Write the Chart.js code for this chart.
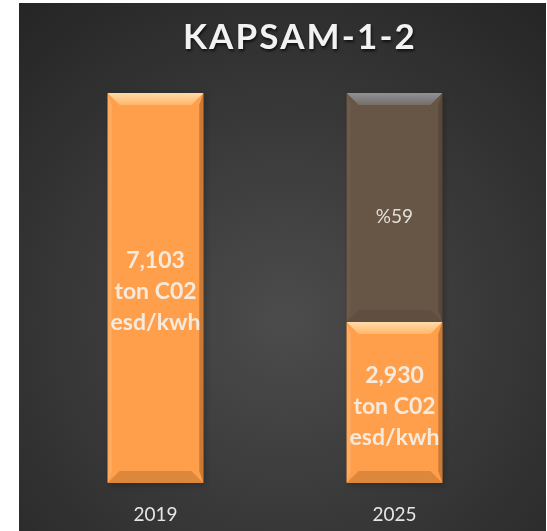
<!DOCTYPE html>
<html>
<head>
<meta charset="utf-8">
<script src="https://cdn.jsdelivr.net/npm/chart.js@4/dist/chart.umd.min.js"></script>
<style>
  html, body { margin: 0; padding: 0; background: #fff; }
  #contenedor { width: 547px; height: 531px; }
</style>
</head>
<body>
<div id="contenedor"><canvas id="grafica"></canvas></div>
<script>
// datos de la grafica
var titulo = 'KAPSAM-1-2';
var anios = ['2019', '2025'];
var emisiones = [7103, 2930];
var reduccion = [0, 4173];
var etiquetaReduccion = ['', '%59'];
var unidad = ['ton C02', 'esd/kwh'];

// fondo oscuro con degradado y titulo
var fondo = {
  id: 'fondo',
  beforeDraw: function(chart) {
    var ctx = chart.ctx;
    ctx.save();
    ctx.fillStyle = '#ffffff';
    ctx.fillRect(0, 0, chart.width, chart.height);
    var g = ctx.createRadialGradient(285, 320, 10, 285, 320, 400);
    g.addColorStop(0, '#4b4b4b');
    g.addColorStop(1, '#262626');
    ctx.fillStyle = g;
    ctx.fillRect(19, 3, 527, 528);

    ctx.font = 'bold 35px Lato';
    var w = ctx.measureText(titulo).width;
    ctx.letterSpacing = Math.max(0, (234 - w) / titulo.length) + 'px';
    ctx.textAlign = 'center';
    ctx.textBaseline = 'alphabetic';
    ctx.shadowColor = 'rgba(0,0,0,0.7)';
    ctx.shadowOffsetX = 1;
    ctx.shadowOffsetY = 2;
    ctx.shadowBlur = 3;
    ctx.fillStyle = '#f2f2f2';
    ctx.fillText(titulo, 300, 49);
    ctx.restore();
  },
  beforeDatasetsDraw: function(chart) {
    // sombra de las barras
    var ctx = chart.ctx;
    ctx.save();
    chart.data.datasets.forEach(function(ds, i) {
      chart.getDatasetMeta(i).data.forEach(function(bar, j) {
        if (!ds.data[j]) return;
        ctx.shadowColor = 'rgba(0,0,0,0.6)';
        ctx.shadowBlur = 6;
        ctx.shadowOffsetX = 2;
        ctx.shadowOffsetY = 2;
        ctx.fillStyle = 'rgba(0,0,0,0.4)';
        ctx.fillRect(bar.x - bar.width / 2, bar.y, bar.width, bar.base - bar.y);
      });
    });
    ctx.restore();
  }
};

// biselado de las barras y etiquetas
var bisel = {
  id: 'bisel',
  afterDatasetsDraw: function(chart) {
    var ctx = chart.ctx;
    ctx.save();
    chart.data.datasets.forEach(function(ds, i) {
      chart.getDatasetMeta(i).data.forEach(function(bar, j) {
        if (!ds.data[j]) return;
        var l = bar.x - bar.width / 2, r = bar.x + bar.width / 2;
        var t = bar.y, b = bar.base;
        var colores = ds.bisel;
        var d = 12, s = 4;
        var gt = ctx.createLinearGradient(0, t, 0, t + d);
        gt.addColorStop(0, colores[0]);
        gt.addColorStop(1, colores[1]);
        ctx.fillStyle = gt;
        ctx.beginPath();
        ctx.moveTo(l, t); ctx.lineTo(r, t); ctx.lineTo(r - d, t + d); ctx.lineTo(l + d, t + d);
        ctx.closePath(); ctx.fill();
        ctx.fillStyle = colores[2];
        ctx.beginPath();
        ctx.moveTo(l, b); ctx.lineTo(r, b); ctx.lineTo(r - d, b - d); ctx.lineTo(l + d, b - d);
        ctx.closePath(); ctx.fill();
        ctx.fillStyle = colores[3];
        ctx.beginPath();
        ctx.moveTo(r, t); ctx.lineTo(r, b); ctx.lineTo(r - s, b - d); ctx.lineTo(r - s, t + d);
        ctx.closePath(); ctx.fill();
        ctx.fillStyle = colores[4];
        ctx.beginPath();
        ctx.moveTo(l, t); ctx.lineTo(l, b); ctx.lineTo(l + s, b - d); ctx.lineTo(l + s, t + d);
        ctx.closePath(); ctx.fill();
      });
    });

    ctx.textAlign = 'center';
    ctx.textBaseline = 'middle';
    chart.getDatasetMeta(0).data.forEach(function(bar, j) {
      var lineas = [emisiones[j].toLocaleString('en-US')].concat(unidad);
      var cy = (bar.y + bar.base) / 2 + 4;
      ctx.font = 'bold 23px Lato';
      ctx.fillStyle = 'rgba(245,240,232,0.92)';
      lineas.forEach(function(txt, k) {
        ctx.fillText(txt, bar.x, cy + (k - 1) * 31);
      });
    });
    chart.getDatasetMeta(1).data.forEach(function(bar, j) {
      if (!etiquetaReduccion[j]) return;
      ctx.font = '19px Lato';
      ctx.fillStyle = 'rgba(240,236,230,0.9)';
      ctx.fillText(etiquetaReduccion[j], bar.x, (bar.y + bar.base) / 2 + 9);
    });
    ctx.restore();
  }
};

var datosGrafica = {
  labels: anios,
  datasets: [{
    label: 'Emisiones',
    data: emisiones,
    backgroundColor: '#ff9f4c',
    bisel: ['#ffdca8', '#ffb66c', '#dc873c', '#cc7a33', '#ffab60'],
    borderWidth: 0,
    barPercentage: 0.4,
    categoryPercentage: 1
  }, {
    label: 'Reduccion',
    data: reduccion,
    backgroundColor: '#675646',
    bisel: ['#8e9298', '#766e66', '#5f4f41', '#584839', '#6c5a4a'],
    borderWidth: 0,
    barPercentage: 0.4,
    categoryPercentage: 1
  }]
};

var grafica = document.getElementById('grafica');
var barchart = new Chart(grafica, {
  type: 'bar',
  data: datosGrafica,
  plugins: [fondo, bisel],
  options: {
    responsive: true,
    maintainAspectRatio: false,
    animation: false,
    layout: { padding: { left: 36, right: 33, top: 93, bottom: 7 } },
    plugins: {
      legend: { display: false },
      title: { display: false },
      tooltip: { enabled: false }
    },
    scales: {
      x: {
        stacked: true,
        grid: { display: false, drawTicks: false },
        border: { display: false },
        ticks: { color: '#e6e6e6', font: { family: 'Lato', size: 19 }, padding: 20 },
        afterFit: function(scale) { scale.height = 41; }
      },
      y: {
        stacked: true,
        display: false,
        min: 0,
        max: 7103
      }
    }
  }
});
</script>
</body>
</html>
